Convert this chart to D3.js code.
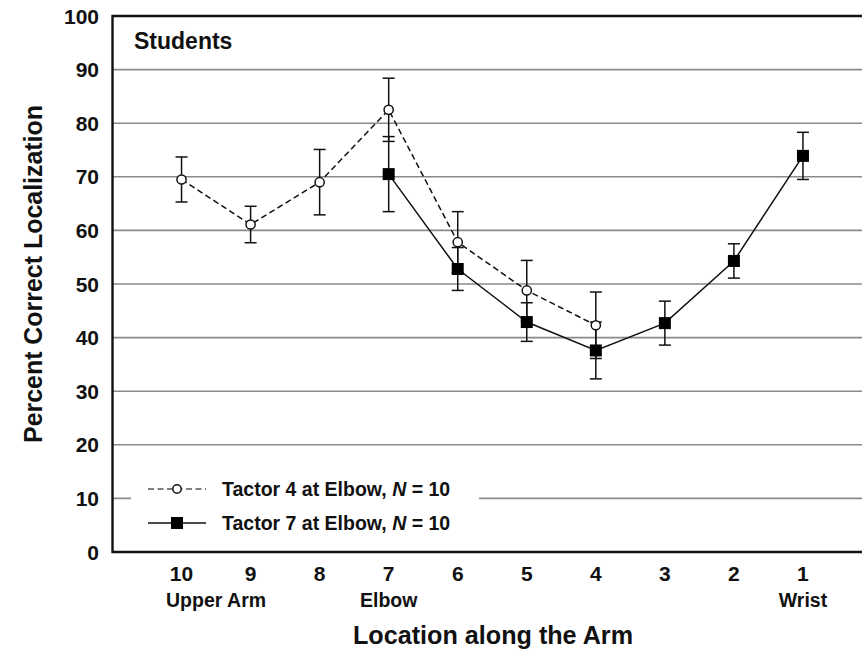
<!DOCTYPE html>
<html>
<head>
<meta charset="utf-8">
<script src="https://cdn.jsdelivr.net/npm/d3@7"></script>
<style>
  html, body { margin: 0; padding: 0; background: #fff; }
  svg { display: block; font-family: "Liberation Sans", Arial, Helvetica, sans-serif; }
</style>
</head>
<body>
<svg id="chart" width="862" height="651"></svg>
<script>
// ---- data ----
const locations = [10, 9, 8, 7, 6, 5, 4, 3, 2, 1];
const yTicks = [0, 10, 20, 30, 40, 50, 60, 70, 80, 90, 100];
const landmarkLabels = ["Upper Arm", "Elbow", "Wrist"];
const landmarkPos = [9.5, 7, 1];

const tactor4Loc = [10, 9, 8, 7, 6, 5, 4];
const tactor4Mean = [69.5, 61.1, 69.0, 82.5, 57.8, 48.8, 42.3];
const tactor4Err = [4.2, 3.4, 6.1, 5.9, 5.7, 5.6, 6.2];

const tactor7Loc = [7, 6, 5, 4, 3, 2, 1];
const tactor7Mean = [70.5, 52.8, 42.9, 37.6, 42.7, 54.3, 73.9];
const tactor7Err = [7.0, 4.0, 3.6, 5.3, 4.1, 3.2, 4.4];

const seriesNames = ["Tactor 4 at Elbow, ", "Tactor 7 at Elbow, "];
const seriesN = [10, 10];

// ---- build ----
const svg = d3.select("#chart");
const x = d3.scaleLinear().domain([11, 0]).range([112.5, 872]);
const y = d3.scaleLinear().domain([0, 100]).range([552, 16]);

const t4 = tactor4Loc.map((l, i) => ({loc: l, m: tactor4Mean[i], e: tactor4Err[i]}));
const t7 = tactor7Loc.map((l, i) => ({loc: l, m: tactor7Mean[i], e: tactor7Err[i]}));

// gridlines
svg.append("g").selectAll("line").data(yTicks.filter(d => d > 0 && d < 100)).join("line")
  .attr("x1", x(11)).attr("x2", x(0))
  .attr("y1", d => y(d)).attr("y2", d => y(d))
  .attr("stroke", "#8a8a8a").attr("stroke-width", 1.6);

// legend background (interrupts grid)
svg.append("rect").attr("x", 131).attr("y", 472).attr("width", 348).attr("height", 66).attr("fill", "#fff");

// frame
svg.append("path")
  .attr("d", `M${x(0)},${y(100)} H${x(11)} V${y(0)} H${x(0)}`)
  .attr("fill", "none").attr("stroke", "#111").attr("stroke-width", 2.4);

// y tick labels
svg.append("g").selectAll("text").data(yTicks).join("text")
  .attr("x", 99).attr("y", d => y(d)).attr("dy", "0.36em")
  .attr("text-anchor", "end").attr("font-size", 21).attr("font-weight", "bold").attr("fill", "#111")
  .text(d => d);

// x tick labels
svg.append("g").selectAll("text").data(locations).join("text")
  .attr("x", d => x(d)).attr("y", 581)
  .attr("text-anchor", "middle").attr("font-size", 21).attr("font-weight", "bold").attr("fill", "#111")
  .text(d => d);

svg.append("g").selectAll("text").data(landmarkLabels).join("text")
  .attr("x", (d, i) => x(landmarkPos[i])).attr("y", 606.5)
  .attr("text-anchor", "middle").attr("font-size", 19.5).attr("font-weight", "bold").attr("fill", "#111")
  .text(d => d);

// axis titles
svg.append("text").attr("x", 493).attr("y", 644).attr("text-anchor", "middle")
  .attr("font-size", 25.5).attr("font-weight", "bold").attr("fill", "#111")
  .attr("textLength", 280).attr("lengthAdjust", "spacingAndGlyphs")
  .text("Location along the Arm");
svg.append("text").attr("transform", "translate(42,274) rotate(-90)").attr("text-anchor", "middle")
  .attr("font-size", 26.5).attr("font-weight", "bold").attr("fill", "#111")
  .attr("textLength", 338).attr("lengthAdjust", "spacingAndGlyphs")
  .text("Percent Correct Localization");

// panel label
svg.append("text").attr("x", 134).attr("y", 49).attr("font-size", 23).attr("font-weight", "bold").attr("fill", "#111")
  .text("Students");

// error bars
function errBars(data) {
  const g = svg.append("g").attr("stroke", "#111").attr("stroke-width", 1.5);
  g.selectAll("line.v").data(data).join("line").attr("class", "v")
    .attr("x1", d => x(d.loc)).attr("x2", d => x(d.loc))
    .attr("y1", d => y(d.m - d.e)).attr("y2", d => y(d.m + d.e));
  g.selectAll("line.t").data(data).join("line").attr("class", "t")
    .attr("x1", d => x(d.loc) - 6).attr("x2", d => x(d.loc) + 6)
    .attr("y1", d => y(d.m + d.e)).attr("y2", d => y(d.m + d.e));
  g.selectAll("line.b").data(data).join("line").attr("class", "b")
    .attr("x1", d => x(d.loc) - 6).attr("x2", d => x(d.loc) + 6)
    .attr("y1", d => y(d.m - d.e)).attr("y2", d => y(d.m - d.e));
}
errBars(t4);
errBars(t7);

const line = d3.line().x(d => x(d.loc)).y(d => y(d.m));
svg.append("path").datum(t4).attr("d", line).attr("fill", "none")
  .attr("stroke", "#111").attr("stroke-width", 1.5).attr("stroke-dasharray", "6,3.5");
svg.append("path").datum(t7).attr("d", line).attr("fill", "none")
  .attr("stroke", "#111").attr("stroke-width", 1.5);

svg.append("g").selectAll("rect").data(t7).join("rect")
  .attr("x", d => x(d.loc) - 6).attr("y", d => y(d.m) - 6).attr("width", 12).attr("height", 12)
  .attr("fill", "#000");
svg.append("g").selectAll("circle").data(t4).join("circle")
  .attr("cx", d => x(d.loc)).attr("cy", d => y(d.m)).attr("r", 4.6)
  .attr("fill", "#fff").attr("stroke", "#111").attr("stroke-width", 1.5);

// legend
const legY = [489, 523];
const lg = svg.append("g");
lg.append("line").attr("x1", 148).attr("x2", 206).attr("y1", legY[0]).attr("y2", legY[0])
  .attr("stroke", "#555").attr("stroke-width", 1.5).attr("stroke-dasharray", "6,3.5");
lg.append("circle").attr("cx", 177).attr("cy", legY[0]).attr("r", 4.2)
  .attr("fill", "#fff").attr("stroke", "#111").attr("stroke-width", 1.5);
lg.append("line").attr("x1", 148).attr("x2", 206).attr("y1", legY[1]).attr("y2", legY[1])
  .attr("stroke", "#111").attr("stroke-width", 1.5);
lg.append("rect").attr("x", 171).attr("y", legY[1] - 6).attr("width", 12).attr("height", 12).attr("fill", "#000");

seriesNames.forEach((name, i) => {
  const t = lg.append("text").attr("x", 222).attr("y", legY[i] + 7)
    .attr("font-size", 19.5).attr("font-weight", "bold").attr("fill", "#111");
  t.append("tspan").text(name);
  t.append("tspan").attr("font-style", "italic").text("N");
  t.append("tspan").text(" = " + seriesN[i]);
});
</script>
</body>
</html>
